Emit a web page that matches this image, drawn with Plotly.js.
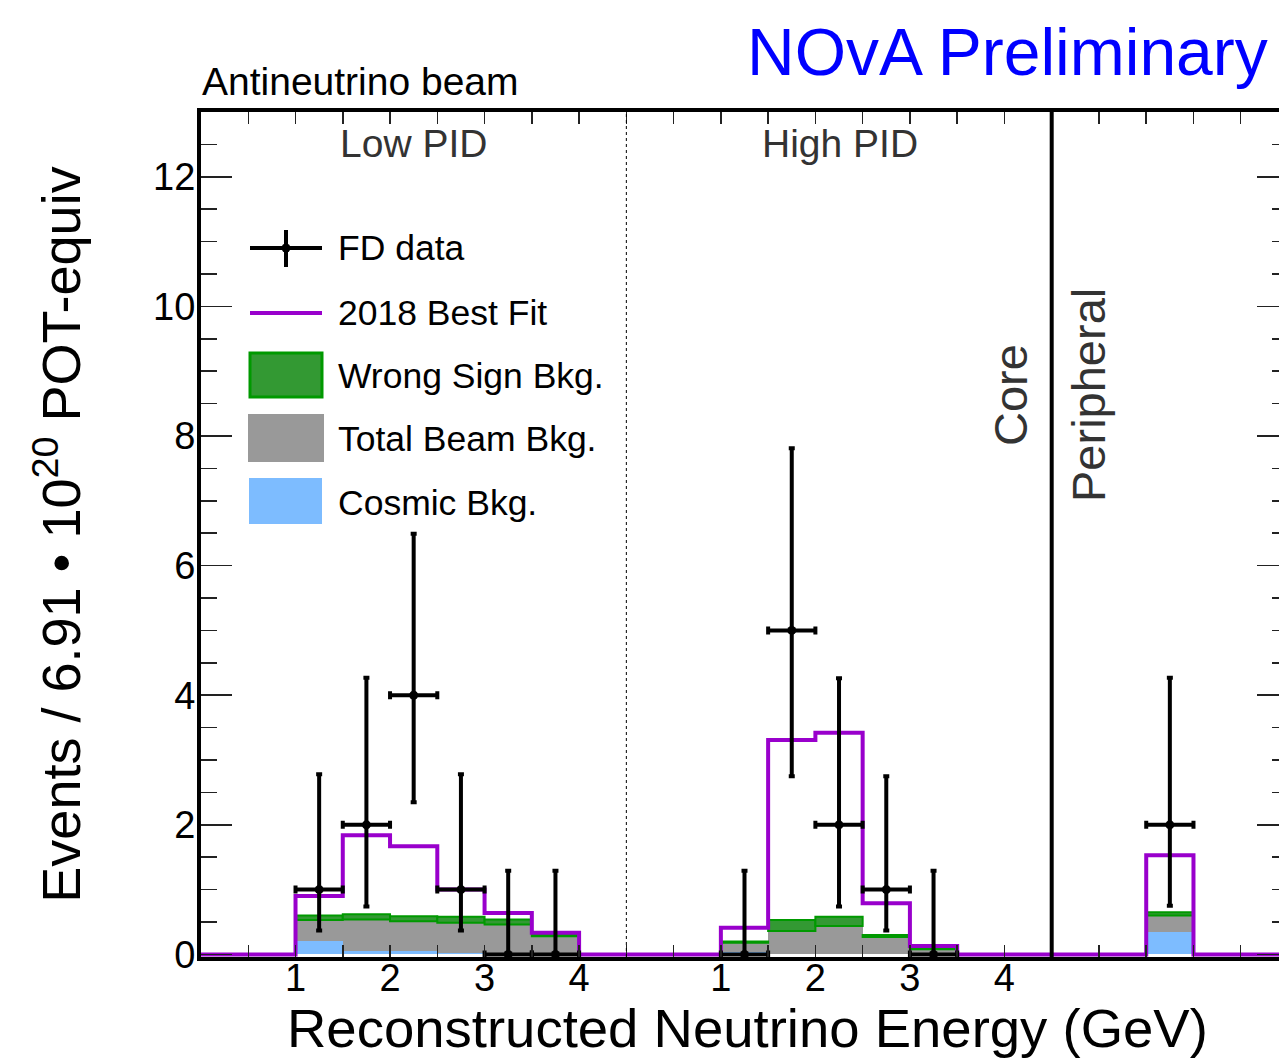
<!DOCTYPE html>
<html><head><meta charset="utf-8">
<script src="https://cdn.plot.ly/plotly-3.0.1.min.js"></script>
<style>html,body{margin:0;padding:0;overflow:hidden;background:#fff}</style>
</head><body><div id="chart"></div>
<script>
// ---------------- data ----------------
const sectionNames = ['Low PID', 'High PID', 'Core', 'Peripheral'];
const binCenters = [1.25, 1.75, 2.25, 2.75, 3.25, 3.75];   // GeV (0.5 GeV bins)
const tickLabels = ['1', '2', '3', '4'];
const xTitle = 'Reconstructed Neutrino Energy (GeV)';
const yTitle = 'Events / 6.91 • 10<sup>20</sup> POT-equiv';

// Low PID
const lowBestFit   = [0.90, 1.84, 1.67, 1.00, 0.64, 0.335];
const lowCosmic    = [0.21, 0.05, 0.05, 0.02, 0.00, 0.00];
const lowBeamBkg   = [0.32, 0.49, 0.46, 0.47, 0.46, 0.28];
const lowWrongSign = [0.07, 0.08, 0.08, 0.09, 0.08, 0.03];
const lowData      = [1, 2, 4, 1, 0, 0];
const lowDataUp    = [2.78, 4.27, 6.49, 2.78, 1.29, 1.29];
const lowDataDown  = [0.37, 0.74, 2.35, 0.37, 0, 0];

// High PID
const highCenters   = [1.25, 1.75, 2.25, 2.75, 3.25];
const highBestFit   = [0.41, 3.31, 3.42, 0.79, 0.13];
const highCosmic    = [0.03, 0.01, 0.01, 0.01, 0.00];
const highBeamBkg   = [0.15, 0.35, 0.43, 0.26, 0.08];
const highWrongSign = [0.02, 0.17, 0.14, 0.03, 0.01];
const highData      = [0, 5, 2, 1, 0];
const highDataUp    = [1.29, 7.81, 4.26, 2.75, 1.29];
const highDataDown  = [0, 2.75, 0.74, 0.37, 0];

// Peripheral (single bin)
const periCenters   = [1.25];
const periBestFit   = [1.53];
const periCosmic    = [0.345];
const periBeamBkg   = [0.255];
const periWrongSign = [0.05];
const periData      = [2];
const periDataUp    = [4.27];
const periDataDown  = [0.75];

const legendLabels = ['FD data', '2018 Best Fit', 'Wrong Sign Bkg.', 'Total Beam Bkg.', 'Cosmic Bkg.'];

// ---------------- layout geometry ----------------
const HALF = 0.25;             // half bin width
const XMAX = 11.5;
const sections = [
  {off: 0.0, c: binCenters, fit: lowBestFit, cos: lowCosmic, beam: lowBeamBkg, ws: lowWrongSign, d: lowData, up: lowDataUp, dn: lowDataDown},
  {off: 4.5, c: highCenters, fit: highBestFit, cos: highCosmic, beam: highBeamBkg, ws: highWrongSign, d: highData, up: highDataUp, dn: highDataDown},
  {off: 9.0, c: periCenters, fit: periBestFit, cos: periCosmic, beam: periBeamBkg, ws: periWrongSign, d: periData, up: periDataUp, dn: periDataDown}
];

const C = {purple: '#9900cc', green: '#339933', greenLine: '#009900', grey: '#999999', blue: '#7dbcff'};
const FONT = 'Liberation Sans, Arial, Helvetica, sans-serif';

// stacked background bars
const bx = [], bCos = [], bBeam = [], bBeamBase = [], bWs = [], bWsBase = [];
sections.forEach(s => s.c.forEach((c, i) => {
  bx.push(s.off + c);
  bCos.push(s.cos[i]);
  bBeamBase.push(s.cos[i]); bBeam.push(s.beam[i]);
  bWsBase.push(s.cos[i] + s.beam[i]); bWs.push(s.ws[i]);
}));

// best-fit step histogram
const fx = [0], fy = [0];
let prevHi = null;
sections.forEach(s => s.c.forEach((c, i) => {
  const lo = s.off + c - HALF, hi = s.off + c + HALF;
  if (prevHi !== null && Math.abs(lo - prevHi) > 1e-9) { fx.push(prevHi); fy.push(0); }
  fx.push(lo); fy.push(s.fit[i]);
  prevHi = hi;
}));
fx.push(prevHi); fy.push(0);
fx.push(XMAX); fy.push(0);

// data points
const dx = [], dy = [], dUp = [], dDn = [];
sections.forEach(s => s.c.forEach((c, i) => {
  dx.push(s.off + c); dy.push(s.d[i]);
  dUp.push(s.up[i] - s.d[i]); dDn.push(s.d[i] - s.dn[i]);
}));

const traces = [
  {type: 'bar', x: bx, y: bCos, base: 0, width: 0.5, marker: {color: C.blue, line: {width: 0}}, hoverinfo: 'skip', showlegend: false},
  {type: 'bar', x: bx, y: bBeam, base: bBeamBase, width: 0.5, marker: {color: C.grey, line: {width: 0}}, hoverinfo: 'skip', showlegend: false},
  {type: 'bar', x: bx, y: bWs, base: bWsBase, width: 0.5, marker: {color: C.green, line: {width: 2, color: C.greenLine}}, hoverinfo: 'skip', showlegend: false},
  {type: 'scatter', mode: 'lines', x: fx, y: fy, line: {color: C.purple, width: 4, shape: 'hv'}, hoverinfo: 'skip', showlegend: false},
  {type: 'scatter', mode: 'markers', x: dx, y: dy, cliponaxis: false,
   marker: {color: 'black', size: 9},
   error_y: {type: 'data', symmetric: false, array: dUp, arrayminus: dDn, color: 'black', thickness: 4, width: 3},
   error_x: {type: 'constant', value: HALF, color: 'black', thickness: 4, width: 4},
   showlegend: false}
];

// ticks every 0.5 GeV, labels at integers in the two core panels
const tickvals = [], ticktext = [];
for (let k = 1; k <= 22; k++) {
  const v = k * 0.5;
  tickvals.push(v);
  let t = '';
  for (let s = 0; s < 2; s++) {
    const loc = v - sections[s].off;
    const idx = tickLabels.indexOf(String(loc));
    if (loc > 0 && loc <= 4.0001 && idx >= 0 && Number.isInteger(loc)) t = tickLabels[idx];
  }
  ticktext.push(t);
}

// pixel -> paper helpers for annotations / legend
const L = 201, R = 1288, T = 112, B = 957;
const px = p => (p - L) / (R - L);
const py = p => (B - p) / (B - T);

const shapes = [
  {type: 'line', xref: 'x', yref: 'paper', x0: 4.5, x1: 4.5, y0: 0, y1: 1, line: {color: 'black', width: 1, dash: 'dot'}},
  {type: 'line', xref: 'x', yref: 'paper', x0: 9.0, x1: 9.0, y0: 0, y1: 1, line: {color: 'black', width: 4}},
  // legend symbols
  {type: 'line', xref: 'paper', yref: 'paper', x0: px(250), x1: px(322), y0: py(248), y1: py(248), line: {color: 'black', width: 4}},
  {type: 'line', xref: 'paper', yref: 'paper', x0: px(286), x1: px(286), y0: py(230), y1: py(267), line: {color: 'black', width: 4}},
  {type: 'circle', xref: 'paper', yref: 'paper', x0: px(281.5), x1: px(290.5), y0: py(252.5), y1: py(243.5), fillcolor: 'black', line: {width: 0}},
  {type: 'line', xref: 'paper', yref: 'paper', x0: px(250), x1: px(322), y0: py(313), y1: py(313), line: {color: C.purple, width: 4}},
  {type: 'rect', xref: 'paper', yref: 'paper', x0: px(250), x1: px(322), y0: py(397), y1: py(353), fillcolor: C.green, line: {color: C.greenLine, width: 3}},
  {type: 'rect', xref: 'paper', yref: 'paper', x0: px(248), x1: px(324), y0: py(462), y1: py(414), fillcolor: C.grey, line: {width: 0}},
  {type: 'rect', xref: 'paper', yref: 'paper', x0: px(249), x1: px(322), y0: py(524), y1: py(478), fillcolor: C.blue, line: {width: 0}}
];

const ann = (text, x, y, size, opts = {}) => Object.assign({
  text, xref: 'paper', yref: 'paper', x: px(x), y: py(y), showarrow: false,
  xanchor: 'left', yanchor: 'middle', font: {family: FONT, size, color: 'black'}
}, opts);

const legendY = [248, 313, 376, 439, 503];
const annotations = [
  ann('NOvA Preliminary', 1270, 52, 66, {xanchor: 'right', font: {family: FONT, size: 66, color: '#0000ff'}}),
  ann('Antineutrino beam', 200, 81, 39),
  ann(sectionNames[0], 413, 143, 39, {xanchor: 'center', font: {family: FONT, size: 39, color: '#333333'}}),
  ann(sectionNames[1], 840, 143, 39, {xanchor: 'center', font: {family: FONT, size: 39, color: '#333333'}}),
  ann(sectionNames[2], 1010, 395, 47, {xanchor: 'center', textangle: -90, font: {family: FONT, size: 47, color: '#333333'}}),
  ann(sectionNames[3], 1088, 395, 47, {xanchor: 'center', textangle: -90, font: {family: FONT, size: 47, color: '#333333'}}),
  ann(xTitle, 747, 1028, 54.5, {xanchor: 'center'})
];
legendLabels.forEach((t, i) => annotations.push(ann(t, 336, legendY[i], 35.5)));

const tickStyle = {ticks: 'inside', tickcolor: '#222', tickwidth: 1.5};

const layout = {
  width: 1300, height: 1061, autosize: false,
  margin: {l: L, r: 1300 - R, t: T, b: 1061 - B},
  paper_bgcolor: 'white', plot_bgcolor: 'white',
  barmode: 'overlay', bargap: 0,
  showlegend: false,
  font: {family: FONT, color: 'black'},
  xaxis: Object.assign({
    range: [0, XMAX], tickmode: 'array', tickvals, ticktext, ticklen: 12,
    ticklabelstandoff: -16,
    showline: true, linewidth: 4, linecolor: 'black', mirror: 'ticks',
    showgrid: false, zeroline: false, automargin: false,
    tickfont: {family: FONT, size: 38, color: 'black'}
  }, tickStyle),
  yaxis: Object.assign({
    range: [-0.04, 13.0], tick0: 0, dtick: 2, ticklen: 31,
    ticklabelstandoff: -6,
    minor: {dtick: 0.5, ticklen: 16, ticks: 'inside', tickcolor: '#222', tickwidth: 1.5, showgrid: false},
    showline: true, linewidth: 4, linecolor: 'black', mirror: 'ticks',
    showgrid: false, zeroline: false, automargin: false,
    tickfont: {family: FONT, size: 38, color: 'black'},
    title: {text: yTitle, font: {family: FONT, size: 54, color: 'black'}, standoff: 56}
  }, tickStyle),
  shapes, annotations
};

Plotly.newPlot('chart', traces, layout, {displayModeBar: false, staticPlot: true});
</script>
</body></html>
